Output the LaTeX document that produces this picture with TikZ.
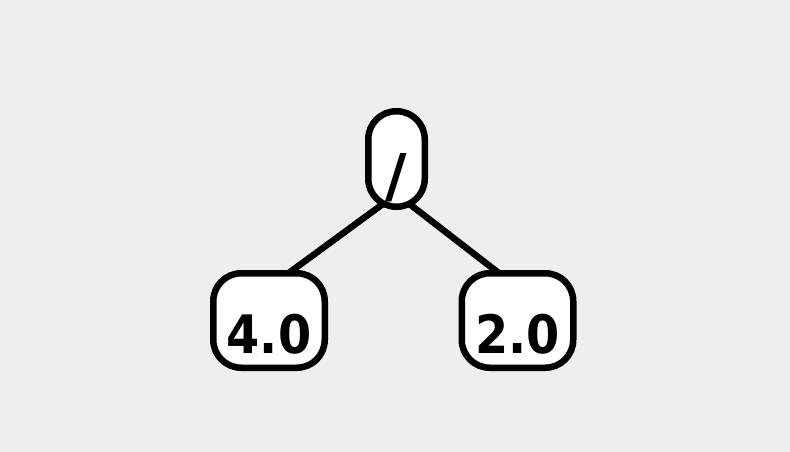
\documentclass[tikz,border=0pt]{standalone}
\usepackage{fontspec}
\setmainfont{DejaVu Sans}
\newfontfamily\condfont{DejaVu Sans Condensed}
\usetikzlibrary{backgrounds}
\definecolor{exprbg}{HTML}{EEEEEE}

\tikzset{
  opnode/.style={draw, fill=white, line width=6.5pt, rounded corners=28pt, inner sep=0pt,
    text height=#1, text depth=0pt},
  exprnode/.style={opnode=66pt, minimum width=111.5pt, minimum height=94.5pt,
    font=\condfont\fontsize{53}{60}\selectfont\bfseries},
  rootnode/.style={opnode=75pt, minimum width=56.5pt, minimum height=95.5pt,
    font=\fontsize{59}{66}\selectfont\bfseries},
  branch/.style={line width=6.5pt}
}

\begin{document}
\begin{tikzpicture}[x=1pt,y=-1pt]
  \useasboundingbox (0,0) rectangle (790,452);
  % operator and operands
  \node[rootnode] (div) at (396.5,159) {/};
  \node[exprnode] (lhs) at (269,320.5) {4.0};
  \node[exprnode] (rhs) at (517.5,320.5) {2.0};
  % branches go under the boxes
  \begin{pgfonlayer}{background}
    \fill[exprbg] (0,0) rectangle (790,452);
    \draw[branch] ([yshift=-35pt]div.center) -- ([yshift=33pt]lhs.center);
    \draw[branch] ([yshift=-35pt]div.center) -- ([yshift=33pt]rhs.center);
  \end{pgfonlayer}
\end{tikzpicture}
\end{document}
